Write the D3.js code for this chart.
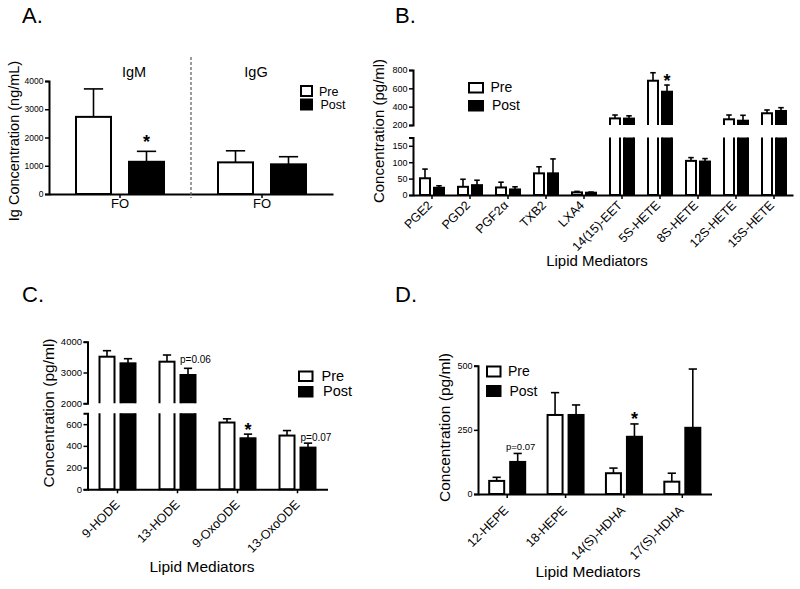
<!DOCTYPE html>
<html><head><meta charset="utf-8">
<script src="https://cdn.jsdelivr.net/npm/d3@7"></script>
<style>body{margin:0;background:#fff}svg{display:block;font-family:"Liberation Sans",Arial,sans-serif}</style>
</head><body><svg id="c" width="800" height="589"></svg>
<script>
// ---------- DATA ----------
// Panel A
const categoriesA = ["IgM", "IgG"];
const xLabelsA = ["FO", "FO"];
const preA = [2730, 1120];
const preSemA = [990, 410];
const postA = [1140, 1050];
const postSemA = [370, 270];
const ticksA = [0, 1000, 2000, 3000, 4000];

// Panel B
const categoriesB = ["PGE2", "PGD2", "PGF2α", "TXB2", "LXA4", "14(15)-EET", "5S-HETE", "8S-HETE", "12S-HETE", "15S-HETE"];
const preB = [51, 25, 23, 66, 8, 272, 683, 104, 262, 328];
const preSemB = [28, 23, 16, 20, 3, 37, 87, 10, 47, 36];
const postB = [22, 30, 17, 66, 7, 270, 563, 102, 247, 353];
const postSemB = [6, 15, 8, 44, 2, 30, 73, 9, 59, 36];
const ticksBLow = [0, 50, 100, 150];
const ticksBHigh = [200, 400, 600, 800];

// Panel C
const categoriesC = ["9-HODE", "13-HODE", "9-OxoODE", "13-OxoODE"];
const preC = [3513, 3351, 615, 495];
const preSemC = [195, 217, 34, 46];
const postC = [3298, 2919, 470, 384];
const postSemC = [150, 217, 38, 41];
const ticksCLow = [0, 200, 400, 600];
const ticksCHigh = [2000, 3000, 4000];

// Panel D
const categoriesD = ["12-HEPE", "18-HEPE", "14(S)-HDHA", "17(S)-HDHA"];
const preD = [51, 308, 81, 48];
const preSemD = [14, 87, 20, 33];
const postD = [125, 308, 223, 258];
const postSemD = [33, 39, 50, 229];
const ticksD = [0, 250, 500];

const seriesNames = ["Pre", "Post"];

// ---------- DRAWING ----------
const FONT = '"Liberation Sans", Arial, sans-serif';
const svg = d3.select("#c");
svg.append("rect").attr("width", 800).attr("height", 589).attr("fill", "#fff");
let clipId = 0;

function drawPanel(o) {
  const g = svg.append("g");
  const x0 = d3.scaleBand().domain(o.cats).range(o.xRange);
  const p0 = 1 - o.groupW / x0.step();
  x0.paddingInner(p0).paddingOuter(p0 / 2);
  const W = x0.bandwidth();
  const p1 = (W - 2 * o.barW) / (W - o.barW);
  const x1 = d3.scaleBand().domain(seriesNames).range([0, W]).paddingInner(p1);
  const n = o.segments.length;
  const segs = o.segments.map((s, i) => {
    const y = d3.scaleLinear().domain(s.domain).range(s.range);
    const id = "clip" + (clipId++);
    const top = i < n - 1 ? s.range[1] : 0;
    const bottom = i === 0 ? o.axisY + 10 : s.range[0];
    g.append("clipPath").attr("id", id).append("rect")
      .attr("x", o.xRange[0] - 5).attr("width", o.xRange[1] - o.xRange[0] + 10)
      .attr("y", top).attr("height", bottom - top);
    return { s, y, id, i };
  });
  const series = [
    { key: "Pre", vals: o.pre, sem: o.preSem, fill: "#fff" },
    { key: "Post", vals: o.post, sem: o.postSem, fill: "#000" }
  ];
  const segOf = v => segs.find(sg => v <= sg.s.domain[1] && (sg.i === 0 || v >= sg.s.domain[0])) || segs[segs.length - 1];
  const pos = {};
  series.forEach(se => {
    o.cats.forEach((c, j) => {
      const v = se.vals[j], e = se.sem[j];
      const bx = x0(c) + x1(se.key);
      segs.forEach(sg => {
        const [d0, d1] = sg.s.domain;
        if (sg.i > 0 && v <= d0) return;
        const yTop = v > d1 ? sg.y(d1) - 20 : sg.y(v);
        const yBot = sg.i === 0 ? sg.y(0) : sg.y(d0) + 20;
        g.append("rect").attr("clip-path", `url(#${sg.id})`)
          .attr("x", bx).attr("width", o.barW)
          .attr("y", yTop).attr("height", yBot - yTop)
          .attr("fill", se.fill).attr("stroke", "#000").attr("stroke-width", 2);
      });
      const sg = segOf(v);
      const cx = bx + o.barW / 2;
      const yv = sg.y(v), ye = sg.y(v + e);
      const cw = o.barW * 0.55;
      g.append("line").attr("x1", cx).attr("x2", cx).attr("y1", yv).attr("y2", ye)
        .attr("stroke", "#000").attr("stroke-width", 1.6);
      g.append("line").attr("x1", cx - cw / 2).attr("x2", cx + cw / 2).attr("y1", ye).attr("y2", ye)
        .attr("stroke", "#000").attr("stroke-width", 1.6);
      pos[c + "|" + se.key] = { cx, errTop: ye };
    });
  });
  // y axes
  segs.forEach(sg => {
    const ax = d3.axisLeft(sg.y).tickValues(sg.s.ticks).tickSize(4).tickSizeOuter(4)
      .tickFormat(d3.format("d")).tickPadding(1.5);
    const a = g.append("g").attr("transform", `translate(${o.xRange[0]},0)`).call(ax)
      .attr("font-family", FONT).attr("font-size", o.tickFont);
    a.select(".domain").attr("stroke-width", 2);
    a.selectAll(".tick line").attr("stroke-width", 1.5);
    a.selectAll("text").attr("fill", "#000");
  });
  // x axis
  const xa = d3.axisBottom(x0).tickSize(4).tickSizeOuter(0).tickFormat("");
  const xg = g.append("g").attr("transform", `translate(0,${o.axisY})`).call(xa);
  xg.select(".domain").attr("stroke-width", 2);
  xg.selectAll(".tick line").attr("stroke-width", 1.5);
  // x labels
  if (o.rotate) {
    g.selectAll(".xl").data(o.cats).join("text")
      .attr("transform", c => `translate(${x0(c) + W / 2 + o.lblDx},${o.axisY + o.lblDy}) rotate(-45)`)
      .attr("text-anchor", "end").attr("font-size", o.lblFont).attr("font-family", FONT)
      .attr("fill", "#000").text(c => c);
  }
  // annotations
  (o.annots || []).forEach(an => {
    const p = pos[an.cat + "|" + an.series];
    g.append("text").attr("x", p.cx + (an.dx || 0)).attr("y", p.errTop + an.dy)
      .attr("text-anchor", an.anchor || "middle").attr("fill", "#000")
      .attr("font-size", an.size).attr("font-weight", an.bold ? "bold" : "normal")
      .attr("font-family", FONT).text(an.text);
  });
  // legend
  const L = o.legend;
  [["Pre", "#fff", L.yPre, L.tx], ["Post", "#000", L.yPost, L.tx + 1.5]].forEach(([t, f, y, tx]) => {
    g.append("rect").attr("x", L.x + 1).attr("y", y + 1).attr("width", L.w - 2).attr("height", L.h - 2)
      .attr("fill", f).attr("stroke", "#000").attr("stroke-width", 2);
    g.append("text").attr("x", tx).attr("y", y + L.h - 1.5).attr("font-size", L.font)
      .attr("font-family", FONT).attr("fill", "#000").text(t);
  });
  // titles
  g.append("text").attr("transform", `translate(${o.yTitle.x},${o.yTitle.y}) rotate(-90)`)
    .attr("text-anchor", "middle").attr("font-size", o.yTitle.size).attr("font-family", FONT)
    .attr("fill", "#000").text(o.yTitle.text);
  if (o.xTitle) {
    g.append("text").attr("x", o.xTitle.x).attr("y", o.xTitle.y).attr("text-anchor", "middle")
      .attr("font-size", o.xTitle.size).attr("font-family", FONT).attr("fill", "#000").text(o.xTitle.text);
  }
  g.append("text").attr("x", o.letter.x).attr("y", o.letter.y).attr("font-size", 22)
    .attr("font-family", FONT).attr("fill", "#000").text(o.letter.text);
  return { g, x0, W };
}

// Panel A
const A = drawPanel({
  cats: categoriesA, pre: preA, preSem: preSemA, post: postA, postSem: postSemA,
  xRange: [49, 333], groupW: 88, barW: 35, axisY: 194,
  segments: [{ domain: [0, 4000], range: [194, 81], ticks: ticksA }],
  tickFont: 8.5, rotate: false,
  annots: [{ cat: "IgM", series: "Post", text: "*", dy: -3, size: 18, bold: true }],
  legend: { x: 300, yPre: 85, yPost: 98.5, w: 13, h: 12, tx: 319, font: 12.5 },
  yTitle: { x: 18.5, y: 141, size: 14.5, text: "Ig Concentration (ng/mL)" },
  letter: { x: 22, y: 23, text: "A." }
});
// A: group labels, FO labels, divider
A.g.selectAll(".grp").data(categoriesA).join("text")
  .attr("x", (c, i) => A.x0(c) + A.W / 2 + (i === 0 ? 14 : -6)).attr("y", 77)
  .attr("text-anchor", "middle").attr("font-size", 14.5).attr("font-family", FONT).attr("fill", "#000").text(c => c);
A.g.selectAll(".fo").data(categoriesA).join("text")
  .attr("x", c => A.x0(c) + A.W / 2).attr("y", 208)
  .attr("text-anchor", "middle").attr("font-size", 13).attr("font-family", FONT).attr("fill", "#000")
  .text((c, i) => xLabelsA[i]);
A.g.append("line").attr("x1", A.x0.range()[0] + A.x0.step()).attr("x2", A.x0.range()[0] + A.x0.step())
  .attr("y1", 57).attr("y2", 198).attr("stroke", "#666").attr("stroke-width", 1.3)
  .attr("stroke-dasharray", "3,2");

// Panel B
drawPanel({
  cats: categoriesB, pre: preB, preSem: preSemB, post: postB, postSem: postSemB,
  xRange: [413, 793], groupW: 24, barW: 10, axisY: 195,
  segments: [
    { domain: [0, 175], range: [195, 137.6], ticks: ticksBLow },
    { domain: [200, 800], range: [125, 70], ticks: ticksBHigh }
  ],
  tickFont: 9, rotate: true, lblFont: 12.5, lblDx: 1, lblDy: 11,
  annots: [{ cat: "5S-HETE", series: "Post", text: "*", dy: 2, size: 18, bold: true }],
  legend: { x: 468, yPre: 82, yPost: 100, w: 16, h: 11.5, tx: 490.5, font: 14 },
  yTitle: { x: 384, y: 131, size: 15, text: "Concentration (pg/ml)" },
  xTitle: { x: 597, y: 266, size: 15, text: "Lipid Mediators" },
  letter: { x: 395, y: 23, text: "B." }
});

// Panel C
drawPanel({
  cats: categoriesC, pre: preC, preSem: preSemC, post: postC, postSem: postSemC,
  xRange: [87.5, 327.5], groupW: 36, barW: 15, axisY: 489.3,
  segments: [
    { domain: [0, 700], range: [489.3, 413.3], ticks: ticksCLow },
    { domain: [2000, 4000], range: [403.3, 341.7], ticks: ticksCHigh }
  ],
  tickFont: 9.5, rotate: true, lblFont: 12.5, lblDx: 3, lblDy: 16,
  annots: [
    { cat: "13-HODE", series: "Post", text: "p=0.06", dy: -5, dx: -8, anchor: "start", size: 10 },
    { cat: "9-OxoODE", series: "Post", text: "*", dy: 1.5, size: 18, bold: true },
    { cat: "13-OxoODE", series: "Post", text: "p=0.07", dy: -2.5, dx: -7.5, anchor: "start", size: 10 }
  ],
  legend: { x: 298, yPre: 370.5, yPost: 386, w: 15.5, h: 11.5, tx: 321.5, font: 14.5 },
  yTitle: { x: 53.5, y: 413, size: 15.5, text: "Concentration (pg/ml)" },
  xTitle: { x: 202, y: 572, size: 15.5, text: "Lipid Mediators" },
  letter: { x: 22, y: 302, text: "C." }
});

// Panel D
drawPanel({
  cats: categoriesD, pre: preD, preSem: preSemD, post: postD, postSem: postSemD,
  xRange: [478, 711.5], groupW: 36, barW: 15, axisY: 494,
  segments: [{ domain: [0, 500], range: [494, 365.7], ticks: ticksD }],
  tickFont: 9, rotate: true, lblFont: 12.5, lblDx: 2, lblDy: 17,
  annots: [
    { cat: "12-HEPE", series: "Post", text: "p=0.07", dy: -3, dx: 3, anchor: "middle", size: 9.5 },
    { cat: "14(S)-HDHA", series: "Post", text: "*", dy: 1.5, size: 18, bold: true }
  ],
  legend: { x: 486, yPre: 365.5, yPost: 385, w: 15.5, h: 12, tx: 508, font: 14 },
  yTitle: { x: 450, y: 427.5, size: 15.5, text: "Concentration (pg/ml)" },
  xTitle: { x: 588, y: 577, size: 15.5, text: "Lipid Mediators" },
  letter: { x: 395, y: 302, text: "D." }
});
</script>
</body></html>
